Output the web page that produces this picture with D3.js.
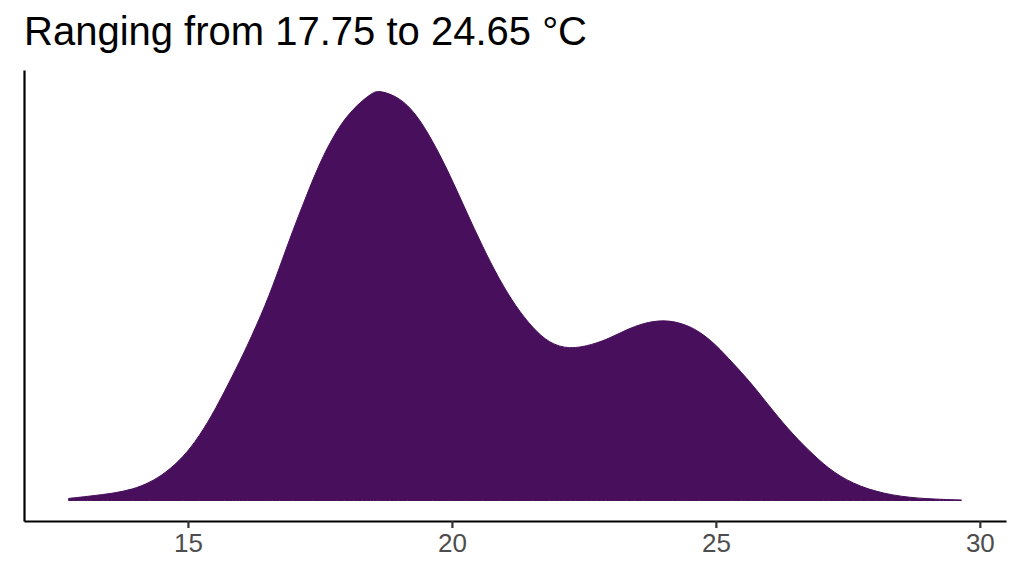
<!DOCTYPE html>
<html>
<head>
<meta charset="utf-8">
<script src="https://cdn.jsdelivr.net/npm/d3@7"></script>
<style>
  body { margin: 0; background: #fff; }
  svg { display: block; font-family: "Liberation Sans", Arial, sans-serif; }
</style>
</head>
<body>
<div id="chart"></div>
<script>
// temperature values (°C) where the density was read
var tempX = [12.74, 13.32, 13.64, 13.95, 14.27, 14.58, 14.90, 15.21, 15.53, 15.85,
  16.10, 16.48, 16.73, 16.98, 17.24, 17.49, 17.81, 18.12, 18.50, 18.63,
  19.00, 19.32, 19.63, 19.95, 20.26, 20.58, 20.90, 21.21, 21.53, 21.84,
  22.22, 22.67, 22.99, 23.30, 23.62, 24.00, 24.37, 24.69, 25.00, 25.32,
  25.64, 26.08, 26.46, 26.84, 27.22, 27.72, 28.35, 28.99, 29.65];
// kernel density estimate at each temperature
var densY = [0.0008, 0.0021, 0.0030, 0.0043, 0.0068, 0.0107, 0.0165, 0.0245, 0.0355, 0.0483,
  0.0585, 0.0758, 0.0896, 0.1038, 0.1173, 0.1300, 0.1427, 0.1511, 0.1575, 0.1581,
  0.1556, 0.1492, 0.1389, 0.1261, 0.1120, 0.0979, 0.0851, 0.0748, 0.0665, 0.0607,
  0.0582, 0.0601, 0.0626, 0.0658, 0.0684, 0.0697, 0.0684, 0.0652, 0.0601, 0.0530,
  0.0460, 0.0346, 0.0254, 0.0177, 0.0108, 0.0052, 0.0018, 0.0006, 0.0002];
var xTicks = [15, 20, 25, 30];
var title = "Ranging from 17.75 to 24.65 °C";

var W = 1024, H = 576;
var mLeft = 24, mRight = 1006, mTop = 70, mBottom = 521;

var data = tempX.map(function (d, i) { return [d, densY[i]]; });

var svg = d3.select("#chart")
  .append("svg")
  .attr("width", W)
  .attr("height", H);

// ggplot style 5% expansion on both scales
var xMin = d3.min(tempX), xMax = d3.max(tempX), xr = xMax - xMin;
var x = d3.scaleLinear()
  .domain([xMin - 0.05 * xr, xMax + 0.05 * xr])
  .range([mLeft, mRight]);

var yMax = d3.max(densY);
var y = d3.scaleLinear()
  .domain([-0.05 * yMax, 1.05 * yMax])
  .range([mBottom, mTop]);

// density area, smoothed through the read points
var area = d3.area()
  .x(function (d) { return x(d[0]); })
  .y0(y(0))
  .y1(function (d) { return y(d[1]); })
  .curve(d3.curveBasis);

svg.append("path")
  .datum(data)
  .attr("d", area)
  .attr("fill", "#480f5c")
  .attr("stroke", "#480f5c")
  .attr("stroke-width", 1);

// x axis
var xAxis = svg.append("g")
  .attr("transform", "translate(0," + mBottom + ")")
  .call(d3.axisBottom(x).tickValues(xTicks).tickSize(7).tickSizeOuter(0).tickPadding(6));
xAxis.select(".domain").attr("stroke", "#000").attr("stroke-width", 2.2);
xAxis.selectAll(".tick line").attr("stroke", "#333").attr("stroke-width", 2.2);
xAxis.selectAll(".tick text")
  .attr("fill", "#4d4d4d")
  .style("font-size", "26px");

// y axis (line only)
var yAxis = svg.append("g")
  .attr("transform", "translate(" + mLeft + ",0)")
  .call(d3.axisLeft(y).tickValues([]).tickSizeOuter(0));
yAxis.select(".domain").attr("stroke", "#000").attr("stroke-width", 2.2);

// title
svg.append("text")
  .attr("x", mLeft)
  .attr("y", 45)
  .attr("fill", "#000")
  .style("font-size", "40px")
  .text(title);
</script>
</body>
</html>
